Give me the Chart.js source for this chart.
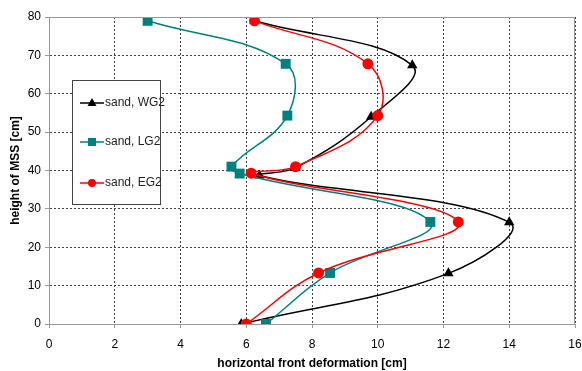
<!DOCTYPE html>
<html>
<head>
<meta charset="utf-8">
<script src="https://cdn.jsdelivr.net/npm/chart.js@4/dist/chart.umd.min.js"></script>
<style>
  body { margin: 0; background: #fff; }
</style>
</head>
<body>
<canvas id="chMSS" width="582" height="371"></canvas>
<script>
// series (x = deformation [cm], y = height [cm])
var labels = ["sand, WG2", "sand, LG2", "sand, EG2"];
var wgX = [6.25, 11.05, 9.8, 7.5, 6.4, 14.0, 12.15, 5.85];
var wgY = [79, 67.4, 54, 40.7, 38.7, 26.5, 13.2, 0];
var lgX = [3.0, 7.2, 7.25, 5.55, 5.8, 11.6, 8.55, 6.6];
var lgY = [79, 67.8, 54.3, 41, 39.2, 26.6, 13.3, 0];
var egX = [6.25, 9.7, 10.0, 7.5, 6.15, 12.45, 8.2, 6.0];
var egY = [79, 67.8, 54.3, 41, 39.3, 26.6, 13.3, 0];
var xTicks = [0, 2, 4, 6, 8, 10, 12, 14, 16];
var yTicks = [0, 10, 20, 30, 40, 50, 60, 70, 80];

var colors = ["#000000", "#008080", "#ff0000"];
var styles = ["triangle", "rect", "circle"];
var radii = [6, 7, 5.5];

function pts(xs, ys) {
  var out = [];
  for (var i = 0; i < xs.length; i++) out.push({ x: xs[i], y: ys[i] });
  return out;
}

var series = [pts(wgX, wgY), pts(lgX, lgY), pts(egX, egY)];
var datasets = [];
for (var i = 0; i < 3; i++) {
  datasets.push({
    label: labels[i],
    data: series[i],
    showLine: true,
    tension: 0.4,
    borderColor: colors[i],
    backgroundColor: colors[i],
    borderWidth: 1.5,
    pointStyle: styles[i],
    pointRadius: radii[i],
    pointBorderWidth: 0,
    order: 3 - i,
  });
}

var font = "'Liberation Sans', Arial, sans-serif";

// plot frame + legend box inside the plot
var framePlugin = {
  id: "frame",
  afterDraw: function (chart) {
    var ctx = chart.ctx;
    var a = chart.chartArea;
    ctx.save();
    ctx.setLineDash([]);
    ctx.strokeStyle = "#999";
    ctx.lineWidth = 1;
    ctx.strokeRect(a.left + 0.5, a.top + 0.5, a.right - a.left - 1, a.bottom - a.top);

    // legend
    var bx = 72, by = 80, bw = 88, bh = 124;
    ctx.fillStyle = "#fff";
    ctx.fillRect(bx, by, bw, bh);
    ctx.strokeStyle = "#444";
    ctx.strokeRect(bx + 0.5, by + 0.5, bw, bh);
    var rows = [103, 142, 183];
    ctx.font = "12px " + font;
    ctx.textBaseline = "middle";
    chart.data.datasets.forEach(function (ds, k) {
      var y = rows[k];
      ctx.strokeStyle = ds.borderColor;
      ctx.fillStyle = ds.borderColor;
      ctx.lineWidth = 1.5;
      ctx.beginPath();
      ctx.moveTo(80, y);
      ctx.lineTo(104, y);
      ctx.stroke();
      var cx = 92;
      ctx.beginPath();
      if (ds.pointStyle === "triangle") {
        ctx.moveTo(cx, y - 5);
        ctx.lineTo(cx + 4.5, y + 3);
        ctx.lineTo(cx - 4.5, y + 3);
        ctx.closePath();
      } else if (ds.pointStyle === "rect") {
        ctx.rect(cx - 4, y - 4, 8, 8);
      } else {
        ctx.arc(cx, y, 4, 0, Math.PI * 2);
      }
      ctx.fill();
      ctx.fillStyle = "#222";
      ctx.fillText(ds.label, 105, y);
    });
    ctx.restore();
  },
};

new Chart(document.getElementById("chMSS"), {
  type: "scatter",
  data: { datasets: datasets },
  options: {
    responsive: false,
    animation: false,
    layout: { padding: { top: 17, right: 5, left: 0, bottom: 0 } },
    plugins: { legend: { display: false }, tooltip: { enabled: false } },
    scales: {
      x: {
        type: "linear",
        min: 0,
        max: 16,
        afterBuildTicks: function (s) { s.ticks = xTicks.map(function (v) { return { value: v }; }); },
        afterFit: function (s) { s.height = 47; s.paddingLeft = 0; s.paddingRight = 0; },
        ticks: { color: "#000", font: { family: font, size: 12 }, padding: 9 },
        grid: { color: "#444", tickLength: 4, tickColor: "#999", tickBorderDash: [] },
        border: { color: "#999", width: 1, dash: [2, 2] },
        title: {
          display: true,
          text: "horizontal front deformation [cm]",
          color: "#000",
          font: { family: font, size: 12, weight: "bold" },
          padding: 0,
        },
      },
      y: {
        type: "linear",
        min: 0,
        max: 80,
        afterBuildTicks: function (s) { s.ticks = yTicks.map(function (v) { return { value: v }; }); },
        afterFit: function (s) { s.width = 49; },
        ticks: { color: "#000", font: { family: font, size: 12 }, padding: 4 },
        grid: { color: "#444", tickLength: 4, tickColor: "#999", tickBorderDash: [] },
        border: { color: "#999", width: 1, dash: [2, 2] },
        title: {
          display: true,
          text: "height of MSS [cm]",
          color: "#000",
          font: { family: font, size: 12, weight: "bold" },
          padding: { top: 8, bottom: 0 },
        },
      },
    },
  },
  plugins: [framePlugin],
});
</script>
</body>
</html>
